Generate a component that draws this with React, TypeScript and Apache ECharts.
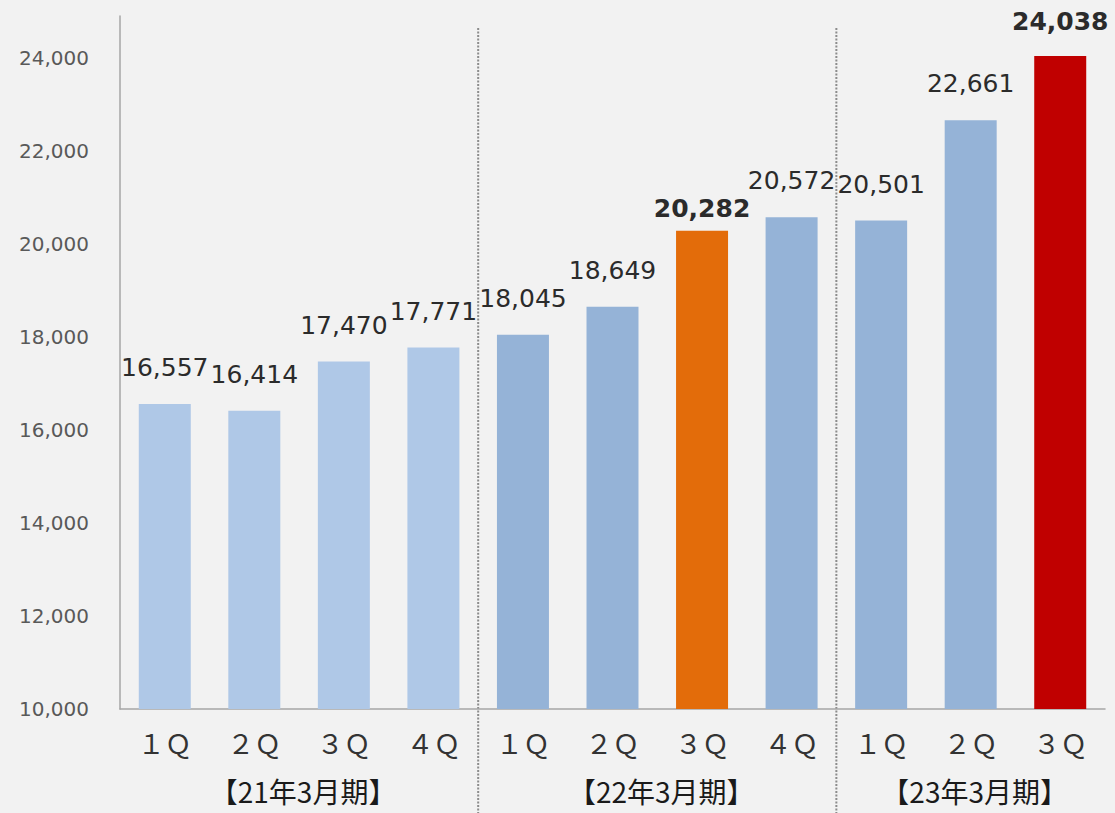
import React, { useEffect, useRef } from "react";
import * as echarts from "echarts";

const quarters = ["１Ｑ", "２Ｑ", "３Ｑ", "４Ｑ", "１Ｑ", "２Ｑ", "３Ｑ", "４Ｑ", "１Ｑ", "２Ｑ", "３Ｑ"];
const sales = [16557, 16414, 17470, 17771, 18045, 18649, 20282, 20572, 20501, 22661, 24038];
const periods = ["【21年3月期】", "【22年3月期】", "【23年3月期】"];
const periodCounts = [4, 4, 3];
const highlightIdx = [6, 10];

const C_LIGHT = "#afc8e7";
const C_MID = "#95b3d7";
const C_ORANGE = "#e36c0a";
const C_RED = "#c00000";

export default function App() {
  const ref = useRef<HTMLDivElement>(null);
  useEffect(() => {
    document.body.style.margin = "0";
    const chart = echarts.init(ref.current!, null, { renderer: "svg" });
    const colorFor = (i: number) => {
      if (i === highlightIdx[1]) return C_RED;
      if (i === highlightIdx[0]) return C_ORANGE;
      return i < periodCounts[0] ? C_LIGHT : C_MID;
    };
    const data = sales.map((v, i) => {
      const bold = highlightIdx.includes(i);
      return {
        value: v,
        itemStyle: { color: colorFor(i) },
        label: bold
          ? { fontWeight: "bold", distance: i === highlightIdx[0] ? 10 : 22 }
          : {},
      };
    });
    chart.setOption({
      animation: false,
      backgroundColor: "#f2f2f2",
      grid: { left: 120, right: 10, top: 16, bottom: 104 },
      xAxis: {
        type: "category",
        data: quarters,
        axisLine: { lineStyle: { color: "#a6a6a6", width: 1.5 } },
        axisTick: { show: false },
        axisLabel: {
          color: "#333333",
          fontSize: 27,
          fontFamily: "Noto Sans CJK JP",
          margin: 20,
        },
      },
      yAxis: {
        type: "value",
        min: 10000,
        max: 24900,
        interval: 2000,
        axisLine: { show: true, lineStyle: { color: "#a6a6a6", width: 1.5 } },
        axisTick: { show: false },
        splitLine: { show: false },
        axisLabel: {
          color: "#595959",
          fontSize: 20,
          fontFamily: "DejaVu Sans",
          margin: 31,
          showMaxLabel: false,
          formatter: (v: number) => v.toLocaleString("en-US"),
        },
      },
      series: [
        {
          type: "bar",
          barWidth: 52,
          data,
          label: {
            show: true,
            position: "top",
            distance: 24,
            color: "#2b2b2b",
            fontSize: 25,
            fontFamily: "DejaVu Sans",
            formatter: (p: any) => Number(p.value).toLocaleString("en-US"),
          },
        },
      ],
    });

    const px = (i: number) => chart.convertToPixel({ xAxisIndex: 0 }, i) as number;
    const graphics: any[] = [];
    let start = 0;
    periods.forEach((name, g) => {
      const end = start + periodCounts[g] - 1;
      graphics.push({
        type: "text",
        x: (px(start) + px(end)) / 2 + 4,
        y: 791,
        style: {
          text: name,
          fill: "#1a1a1a",
          font: '28px "Noto Sans CJK JP"',
          lineHeight: 30,
          textAlign: "center",
          textVerticalAlign: "middle",
        },
      });
      if (g < periods.length - 1) {
        const sx = (px(end) + px(end + 1)) / 2;
        graphics.push({
          type: "line",
          shape: { x1: sx, y1: 28, x2: sx, y2: 813 },
          style: { stroke: "#8c8c8c", lineWidth: 2, lineDash: [2, 1.5] },
        });
      }
      start = end + 1;
    });
    chart.setOption({ graphic: graphics });
    return () => chart.dispose();
  }, []);
  return <div ref={ref} style={{ width: 1115, height: 813 }} />;
}
